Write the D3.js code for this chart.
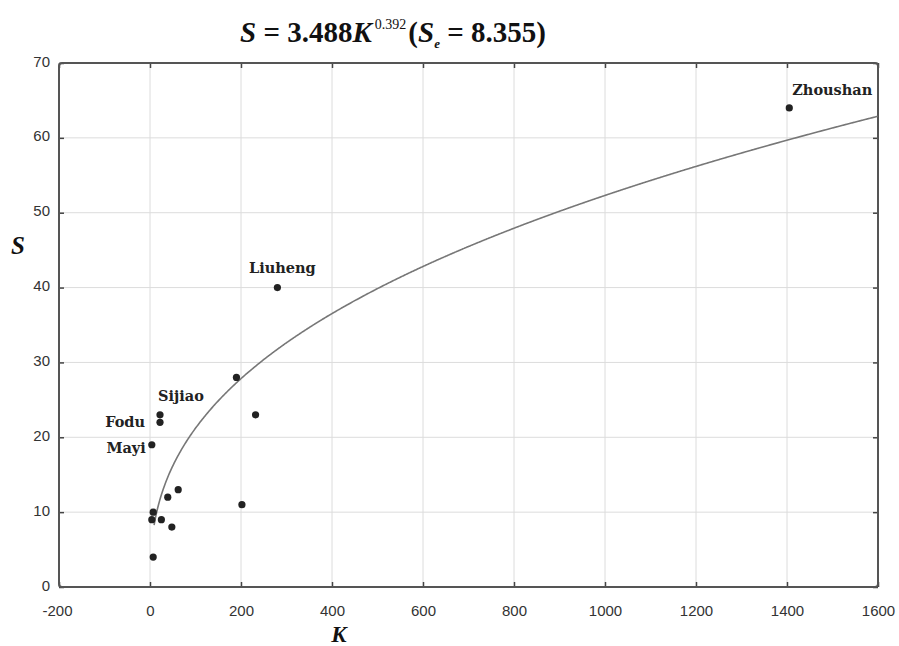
<!DOCTYPE html>
<html lang="en">
<head>
<meta charset="utf-8">
<title>S vs K</title>
<script src="https://d3js.org/d3.v7.min.js"></script>
<style>
  body { margin: 0; background: #fff; }
  .tick text { font-family: "Liberation Sans", Arial, sans-serif; font-size: 15px; fill: #333; }
  .lbl { font-family: "DejaVu Serif", "Liberation Serif", serif; font-weight: bold; font-size: 14.5px; fill: #222; }
</style>
</head>
<body>
<script>
// data
var kValues = [1405, 280, 190, 232, 202, 22, 22, 4, 62, 39, 7, 4, 25, 48, 7];
var sValues = [64, 40, 28, 23, 11, 23, 22, 19, 13, 12, 10, 9, 9, 8, 4];
var names   = ["Zhoushan", "Liuheng", "", "", "", "Sijiao", "Fodu", "Mayi", "", "", "", "", "", "", ""];
var xTicks = [-200, 0, 200, 400, 600, 800, 1000, 1200, 1400, 1600];
var yTicks = [0, 10, 20, 30, 40, 50, 60, 70];
var coefA = 3.488, coefB = 0.392;
var curveStart = 9;

var margin = {top: 63, right: 21, bottom: 59, left: 59},
    width = 899 - margin.left - margin.right,
    height = 646 - margin.top - margin.bottom;

var svg = d3.select("body").append("svg")
    .attr("width", 899)
    .attr("height", 646);

var g = svg.append("g")
    .attr("transform", "translate(" + margin.left + "," + margin.top + ")");

var x = d3.scaleLinear().domain([-200, 1600]).range([0, width]);
var y = d3.scaleLinear().domain([0, 70]).range([height, 0]);

// grid
g.selectAll(".vgrid").data(xTicks.slice(1, -1)).enter().append("line")
    .attr("x1", d => x(d)).attr("x2", d => x(d))
    .attr("y1", 0).attr("y2", height)
    .attr("stroke", "#dcdcdc").attr("stroke-width", 1);
g.selectAll(".hgrid").data(yTicks.slice(1, -1)).enter().append("line")
    .attr("x1", 0).attr("x2", width)
    .attr("y1", d => y(d)).attr("y2", d => y(d))
    .attr("stroke", "#dcdcdc").attr("stroke-width", 1);

// axes (ticks pointing inward)
var fmt = d => String(d);
var xAxis = g.append("g")
    .attr("transform", "translate(0," + height + ")")
    .call(d3.axisBottom(x).tickValues(xTicks).tickFormat(fmt).tickSizeInner(-5).tickSizeOuter(0).tickPadding(18));
var yAxis = g.append("g")
    .call(d3.axisLeft(y).tickValues(yTicks).tickFormat(fmt).tickSizeInner(-5).tickSizeOuter(0).tickPadding(9));
g.append("g")
    .call(d3.axisTop(x).tickValues(xTicks).tickSizeInner(-5).tickSizeOuter(0))
    .selectAll("text").remove();
g.append("g")
    .attr("transform", "translate(" + width + ",0)")
    .call(d3.axisRight(y).tickValues(yTicks).tickSizeInner(-5).tickSizeOuter(0))
    .selectAll("text").remove();
g.selectAll(".domain").remove();
g.selectAll(".tick line").attr("stroke", "#444").attr("stroke-width", 1.5);
yAxis.selectAll(".tick text").attr("dy", "0.2em");
xAxis.selectAll(".tick").filter(d => d === -200).select("text").attr("dx", "-2");

// frame
g.append("rect")
    .attr("x", 0).attr("y", 0)
    .attr("width", width).attr("height", height)
    .attr("rx", 3)
    .attr("fill", "none").attr("stroke", "#555").attr("stroke-width", 2);

// fitted curve
var curveK = d3.range(curveStart, 1600.01, 2);
var line = d3.line()
    .x(d => x(d))
    .y(d => y(coefA * Math.pow(d, coefB)))
    .curve(d3.curveMonotoneX);
g.append("path")
    .datum(curveK)
    .attr("d", line)
    .attr("fill", "none")
    .attr("stroke", "#777")
    .attr("stroke-width", 1.6);

// points
var pts = kValues.map((k, i) => ({k: k, s: sValues[i], name: names[i]}));
g.selectAll(".pt").data(pts).enter().append("circle")
    .attr("cx", d => x(d.k)).attr("cy", d => y(d.s))
    .attr("r", 3.6).attr("fill", "#222");

// point labels
var labelPos = {
  "Zhoushan": {dx: 3, dy: -13, anchor: "start"},
  "Liuheng": {dx: 5, dy: -15, anchor: "middle"},
  "Sijiao": {dx: -2, dy: -14, anchor: "start"},
  "Fodu": {dx: -15, dy: 5, anchor: "end"},
  "Mayi": {dx: -6, dy: 8, anchor: "end"}
};
g.selectAll(".lbl").data(pts.filter(d => d.name)).enter().append("text")
    .attr("class", "lbl")
    .attr("x", d => x(d.k) + labelPos[d.name].dx)
    .attr("y", d => y(d.s) + labelPos[d.name].dy)
    .attr("text-anchor", d => labelPos[d.name].anchor)
    .text(d => d.name);

// title
var title = svg.append("text")
    .attr("x", 393).attr("y", 42)
    .attr("text-anchor", "middle")
    .attr("font-family", "'Liberation Serif', 'Times New Roman', serif")
    .attr("font-weight", "bold")
    .attr("font-size", 29)
    .attr("fill", "#111");
title.append("tspan").attr("font-style", "italic").text("S");
title.append("tspan").text(" = 3.488");
title.append("tspan").attr("font-style", "italic").text("K");
title.append("tspan").attr("font-size", 14).attr("font-weight", "normal").attr("dx", 3).attr("dy", -13).text("0.392");
title.append("tspan").attr("dy", 13).attr("dx", 2).text("(");
title.append("tspan").attr("font-style", "italic").text("S");
title.append("tspan").attr("font-style", "italic").attr("font-size", 13).attr("dy", 6).text("e");
title.append("tspan").attr("dy", -6).text(" = 8.355)");

// axis titles
svg.append("text")
    .attr("x", 18).attr("y", 254)
    .attr("text-anchor", "middle")
    .attr("font-family", "'Liberation Serif', 'Times New Roman', serif")
    .attr("font-weight", "bold").attr("font-style", "italic")
    .attr("font-size", 25).attr("fill", "#111")
    .text("S");
svg.append("text")
    .attr("x", 339).attr("y", 642)
    .attr("text-anchor", "middle")
    .attr("font-family", "'Liberation Serif', 'Times New Roman', serif")
    .attr("font-weight", "bold").attr("font-style", "italic")
    .attr("font-size", 23).attr("fill", "#111")
    .text("K");
</script>
</body>
</html>
